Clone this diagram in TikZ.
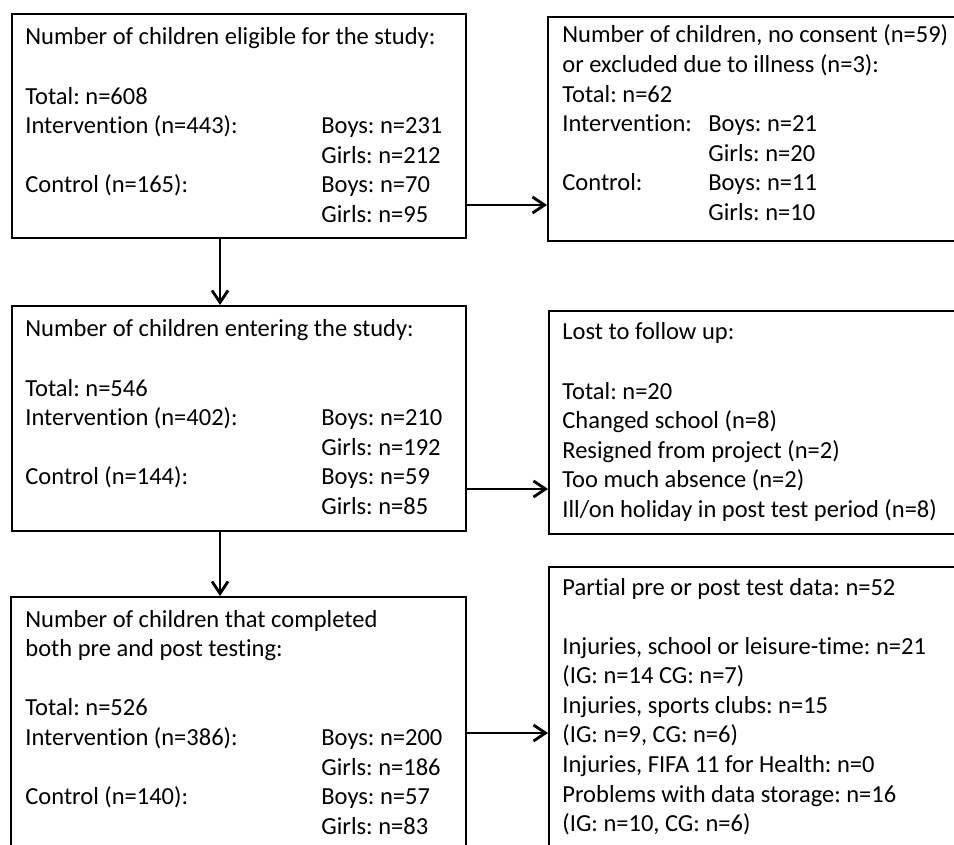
\documentclass[tikz,border=0pt]{standalone}
\usepackage{fontspec}
\setmainfont[Ligatures=NoCommon]{Carlito}
\usetikzlibrary{arrows.meta,fit}
\frenchspacing

\newcommand{\wide}[1]{\multicolumn{2}{@{}l@{}}{#1}}

\tikzset{
  box/.style={draw,line width=1pt,inner sep=0pt},
  txt/.style={anchor=base west,inner sep=0pt,font=\fontsize{12.25}{14.8}\selectfont},
  arr/.style={line width=1.4pt,-{Straight Barb[length=6pt,width=8pt]}}
}

\begin{document}
\begin{tikzpicture}[x=0.5pt,y=-0.5pt]
  \useasboundingbox (0,0) rectangle (954,845);
  \clip (0,0) rectangle (954,845);

  %Boxes
  \node[box,fit={(12,14)(466,238)}] (eligible) {};
  \node[box,fit={(548,17)(980,241)}] (noconsent) {};
  \node[box,fit={(12,306)(466,531)}] (entering) {};
  \node[box,fit={(549,311)(980,534)}] (lost) {};
  \node[box,fit={(11,597)(466,880)}] (completed) {};
  \node[box,fit={(549,567)(980,880)}] (partial) {};

  %Texts
  \node[txt] (eligibletext) at (25,45) {\begin{tabular}[t]{@{}p{148pt}@{}l@{}}
    \wide{Number of children eligible for the study:}\\
    \\
    \wide{Total: n=608}\\
    Intervention (n=443): & Boys: n=231\\
    & Girls: n=212\\
    Control (n=165): & Boys: n=70\\
    & Girls: n=95
  \end{tabular}};

  \node[txt] (noconsenttext) at (562,43) {\begin{tabular}[t]{@{}p{73pt}@{}l@{}}
    \wide{Number of children, no consent (n=59)}\\
    \wide{or excluded due to illness (n=3):}\\
    \wide{Total: n=62}\\
    Intervention: & Boys: n=21\\
    & Girls: n=20\\
    Control: & Boys: n=11\\
    & Girls: n=10
  \end{tabular}};

  \node[txt] (enteringtext) at (25,337) {\begin{tabular}[t]{@{}p{148pt}@{}l@{}}
    \wide{Number of children entering the study:}\\
    \\
    \wide{Total: n=546}\\
    Intervention (n=402): & Boys: n=210\\
    & Girls: n=192\\
    Control (n=144): & Boys: n=59\\
    & Girls: n=85
  \end{tabular}};

  \node[txt] (losttext) at (562,340) {\begin{tabular}[t]{@{}l@{}}
    Lost to follow up:\\
    \\
    Total: n=20\\
    Changed school (n=8)\\
    Resigned from project (n=2)\\
    Too much absence (n=2)\\
    Ill/on holiday in post test period (n=8)
  \end{tabular}};

  \node[txt] (completedtext) at (25,627) {\begin{tabular}[t]{@{}p{148pt}@{}l@{}}
    \wide{Number of children that completed}\\
    \wide{both pre and post testing:}\\
    \\
    \wide{Total: n=526}\\
    Intervention (n=386): & Boys: n=200\\
    & Girls: n=186\\
    Control (n=140): & Boys: n=57\\
    & Girls: n=83
  \end{tabular}};

  \node[txt] (partialtext) at (562,595) {\begin{tabular}[t]{@{}l@{}}
    Partial pre or post test data: n=52\\
    \\
    Injuries, school or leisure-time: n=21\\
    (IG: n=14 CG: n=7)\\
    Injuries, sports clubs: n=15\\
    (IG: n=9, CG: n=6)\\
    Injuries, FIFA 11 for Health: n=0\\
    Problems with data storage: n=16\\
    (IG: n=10, CG: n=6)
  \end{tabular}};

  %Arrows
  \draw[arr] (eligible.east |- 0,205) -- (noconsent.west |- 0,205);
  \draw[arr] (eligible.south -| 220,0) -- (entering.north -| 220,0);
  \draw[arr] (entering.east |- 0,489) -- (lost.west |- 0,489);
  \draw[arr] (entering.south -| 220,0) -- (completed.north -| 220,0);
  \draw[arr] (completed.east |- 0,733) -- (partial.west |- 0,733);
\end{tikzpicture}
\end{document}
